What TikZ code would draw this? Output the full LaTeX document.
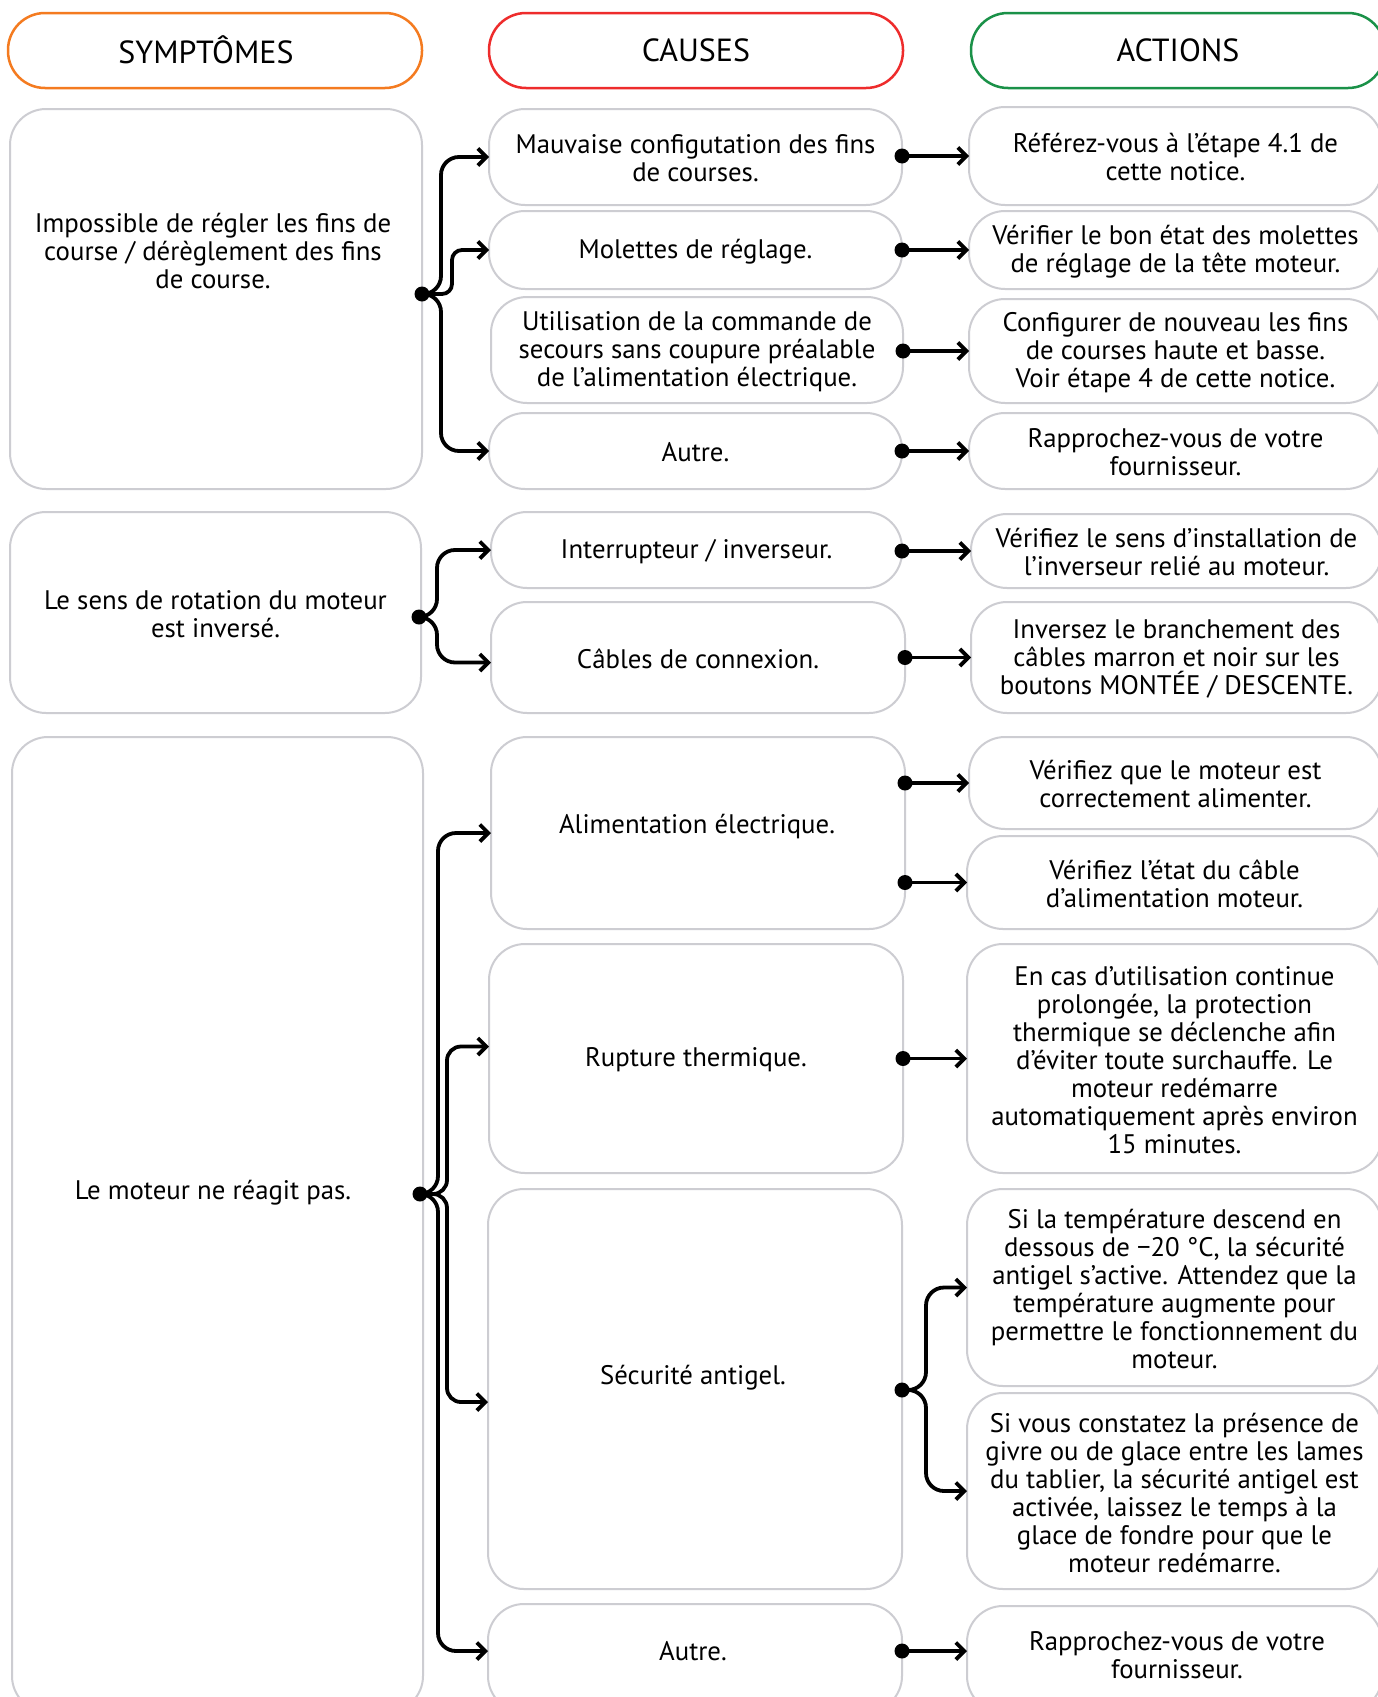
\documentclass[tikz,border=0pt]{standalone}
\usepackage{fontspec}
\setmainfont{PT Sans}
\usetikzlibrary{arrows.meta}
\definecolor{gborder}{HTML}{CDCDD2}
\definecolor{horange}{HTML}{F47B20}
\definecolor{hred}{HTML}{EE2C2C}
\definecolor{hgreen}{HTML}{1A9148}
\newcommand\gbox[6]{\node[gbox,minimum width={(#4-#2)*1pt},minimum height={(#5-#3)*1pt}] (#1) at ({(#2+#4)/2},{(#3+#5)/2}) {};
 \node[txt] (#1t) at ([yshift=-1.5pt]#1.center) {#6};}
\newcommand\gboxe[5]{\node[gbox,minimum width={(#4-#2)*1pt},minimum height={(#5-#3)*1pt}] (#1) at ({(#2+#4)/2},{(#3+#5)/2}) {};}
\begin{document}
\begin{tikzpicture}[x=1pt,y=-1pt,
 gbox/.style={draw=gborder,line width=2pt,rounded corners=36pt,inner sep=0pt,outer sep=0pt},
 hbox/.style={line width=2.5pt,rounded corners=37pt,inner sep=0pt,outer sep=0pt,minimum width=414pt,minimum height=75pt},
 htxt/.style={inner sep=0pt,font=\fontsize{32}{36}\selectfont},
 txt/.style={align=center,inner sep=0pt,font=\fontsize{26.8}{28}\selectfont},
 dotn/.style={circle,fill=black,minimum size=15pt,inner sep=0pt},
 arr/.style={line width=3.8pt,-{Straight Barb[length=8.5pt,width=17pt]}},
]
\useasboundingbox (0,0) rectangle (1378,1697);
\fill[white] (0,0) rectangle (1378,1697);

% headers
\node[hbox,draw=horange] (hs) at (215,50.5) {};
\node[htxt] (hst) at (206,50) {SYMPTÔMES};
\node[hbox,draw=hred] (hc) at (696,50.5) {};
\node[htxt] (hct) at (696,50) {CAUSES};
\node[hbox,draw=hgreen] (ha) at (1178,50.5) {};
\node[htxt] (hat) at (1178,50) {ACTIONS};

% symptoms
\gboxe{s1}{10}{109}{422}{489}
\node[txt] (s1t) at (213,251) {Impossible de régler les fins de\\course / dérèglement des fins\\de course.};
\gbox{s2}{10}{512}{421}{713}{Le sens de rotation du moteur\\est inversé.}
\gboxe{s3}{12}{737}{423}{1712}
\node[txt] (s3t) at (213,1193) {Le moteur ne réagit pas.};

% causes
\gbox{c1}{489}{109}{902}{205}{Mauvaise configutation des fins\\de courses.}
\gbox{c2}{489}{211}{902}{289}{Molettes de réglage.}
\gbox{c3}{491}{297}{903}{403}{Utilisation de la commande de\\secours sans coupure préalable\\de l’alimentation électrique.}
\gbox{c4}{489}{413}{902}{489}{Autre.}
\gbox{c5}{491}{512}{902}{588}{Interrupteur / inverseur.}
\gbox{c6}{491}{602}{905}{713}{Câbles de connexion.}
\gboxe{c7}{491}{737}{905}{929}
\node[txt] (c7t) at (697,827) {Alimentation électrique.};
\gbox{c8}{489}{944}{903}{1173}{Rupture thermique.}
\gboxe{c9}{488}{1189}{902}{1589}
\node[txt] (c9t) at (693,1378) {Sécurité antigel.};
\gboxe{c10}{488}{1604}{902}{1712}
\node[txt] (c10t) at (693,1651) {Autre.};

% actions
\gbox{a1}{969}{107}{1382}{205}{Référez-vous à l’étape 4.1 de\\cette notice.}
\gbox{a2}{969}{211}{1382}{289}{Vérifier le bon état des molettes\\de réglage de la tête moteur.}
\gbox{a3}{969}{299}{1382}{403}{Configurer de nouveau les fins\\de courses haute et basse.\\Voir étape 4 de cette notice.}
\gbox{a4}{969}{413}{1382}{489}{Rapprochez-vous de votre\\fournisseur.}
\gbox{a5}{971}{514}{1382}{588}{Vérifiez le sens d’installation de\\l’inverseur relié au moteur.}
\gbox{a6}{971}{602}{1382}{713}{Inversez le branchement des\\câbles marron et noir sur les\\boutons MONTÉE / DESCENTE.}
\gbox{a7}{969}{737}{1382}{829}{Vérifiez que le moteur est\\correctement alimenter.}
\gbox{a8}{967}{836}{1382}{929}{Vérifiez l’état du câble\\d’alimentation moteur.}
\gbox{a9}{967}{944}{1382}{1173}{En cas d’utilisation continue\\prolongée, la protection\\thermique se déclenche afin\\d’éviter toute surchauffe. Le\\moteur redémarre\\automatiquement après environ\\15 minutes.}
\gbox{a10}{967}{1189}{1382}{1386}{Si la température descend en\\dessous de −20 °C, la sécurité\\antigel s’active. Attendez que la\\température augmente pour\\permettre le fonctionnement du\\moteur.}
\gbox{a11}{967}{1393}{1382}{1589}{Si vous constatez la présence de\\givre ou de glace entre les lames\\du tablier, la sécurité antigel est\\activée, laissez le temps à la\\glace de fondre pour que le\\moteur redémarre.}
\gboxe{a12}{967}{1606}{1382}{1712}
\node[txt] (a12t) at (1177,1655) {Rapprochez-vous de votre\\fournisseur.};

% dots
\node[dotn] (ds1) at (422,294) {};
\node[dotn] (ds2) at (419,617) {};
\node[dotn] (ds3) at (420,1194) {};
\node[dotn] (dc1) at (c1.east |- a1.west) {};
\node[dotn] (dc2) at (c2.east |- a2.west) {};
\node[dotn] (dc3) at (c3.east |- a3.west) {};
\node[dotn] (dc4) at (c4.east |- a4.west) {};
\node[dotn] (dc5) at (c5.east |- a5.west) {};
\node[dotn] (dc6) at (c6.east |- a6.west) {};
\node[dotn] (dc7a) at (c7.east |- a7.west) {};
\node[dotn] (dc7b) at (c7.east |- a8.west) {};
\node[dotn] (dc8) at (c8.east |- a9.west) {};
\node[dotn] (dc9) at (902,1390) {};
\node[dotn] (dc10) at (c10.east |- c10t.center) {};

% symptom -> causes
\draw[arr,rounded corners=18pt] (ds1.center) -- (441,294) |- (c1.west);
\draw[arr,rounded corners=10pt] (ds1.center) -- (452,294) |- (c2.west);
\draw[arr,rounded corners=18pt] (ds1.center) -- (441,294) |- (c4.west);
\draw[arr,rounded corners=18pt] (ds2.center) -- (437,617) |- (c5.west);
\draw[arr,rounded corners=18pt] (ds2.center) -- (437,617) |- ([yshift=-5pt]c6.west);
\draw[arr,rounded corners=18pt] (ds3.center) -- (438,1194) |- (c7.west);
\draw[arr,rounded corners=18pt] (ds3.center) -- (438,1194) |- (c10.west |- c10t.center);
\draw[arr,rounded corners=14pt] (ds3.center) -- (447,1194) |- ([yshift=12pt]c8.west);
\draw[arr,rounded corners=14pt] (ds3.center) -- (447,1194) |- ([yshift=-13pt]c9.west);

% causes -> actions
\draw[arr] (dc1.center) -- (a1.west);
\draw[arr] (dc2.center) -- (a2.west);
\draw[arr] (dc3.center) -- (a3.west);
\draw[arr] (dc4.center) -- (a4.west);
\draw[arr] (dc5.center) -- (a5.west);
\draw[arr] (dc6.center) -- (a6.west);
\draw[arr] (dc7a.center) -- (a7.west);
\draw[arr] (dc7b.center) -- (a8.west);
\draw[arr] (dc8.center) -- (a9.west);
\draw[arr,rounded corners=18pt] (dc9.center) -- (926,1390) |- (a10.west);
\draw[arr,rounded corners=18pt] (dc9.center) -- (926,1390) |- (a11.west);
\draw[arr] (dc10.center) -- (a12.west |- c10t.center);
\end{tikzpicture}
\end{document}
